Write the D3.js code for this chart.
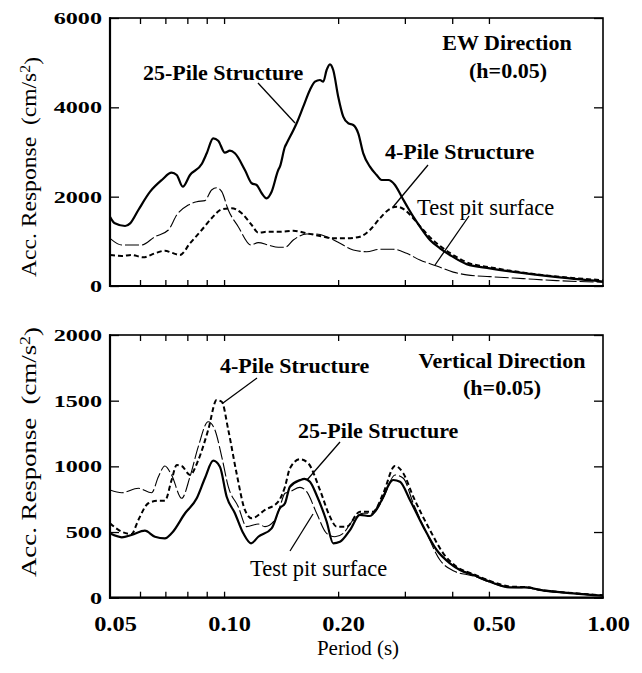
<!DOCTYPE html>
<html>
<head>
<meta charset="utf-8">
<script src="https://cdn.jsdelivr.net/npm/d3@7"></script>
<style>
  body { margin: 0; background: #fff; }
  svg { display: block; }
  text { font-family: "Liberation Serif", "Times New Roman", serif; fill: #000; }
</style>
</head>
<body>
<svg id="chart" width="642" height="673" font-family="Liberation Serif, Times New Roman, serif"></svg>
<script>
// ---------- DATA: [period (s), acceleration response (cm/s^2)] ----------
// EW direction
const ewPile25 = [[0.050,1552],[0.0515,1403],[0.0548,1343],[0.0565,1403],[0.0594,1702],[0.0638,2112],[0.0685,2373],[0.0727,2537],[0.0750,2485],[0.0778,2223],[0.0813,2485],[0.0873,2731],[0.0900,2971],[0.0936,3307],[0.0965,3253],[0.1005,2985],[0.1036,3029],[0.1068,2971],[0.1135,2597],[0.1183,2300],[0.1219,2261],[0.1257,2076],[0.1295,1964],[0.1335,2112],[0.1390,2597],[0.1404,2671],[0.1448,3119],[0.1463,3195],[0.1554,3643],[0.1618,4015],[0.1685,4389],[0.1737,4574],[0.1791,4612],[0.1827,4574],[0.1865,4836],[0.1903,4964],[0.1941,4836],[0.2001,4238],[0.2063,3791],[0.2127,3643],[0.2192,3605],[0.2260,3419],[0.2330,2971],[0.2426,2671],[0.2527,2485],[0.2605,2373],[0.2712,2373],[0.2825,2261],[0.2942,1999],[0.3062,1740],[0.3157,1552],[0.3288,1328],[0.3494,1030],[0.3713,844],[0.3945,694],[0.4366,490],[0.5031,396],[0.6036,298],[0.7377,208],[1.0,100]];
const ewPile4 = [[0.050,694],[0.0537,672],[0.0570,694],[0.0612,642],[0.0657,732],[0.0698,791],[0.0727,746],[0.0765,694],[0.0813,956],[0.0873,1254],[0.0927,1516],[0.0986,1717],[0.1047,1740],[0.1113,1628],[0.1183,1366],[0.1231,1193],[0.1308,1216],[0.1404,1216],[0.1523,1238],[0.1652,1180],[0.1791,1120],[0.1941,1068],[0.2106,1068],[0.2283,1104],[0.2426,1254],[0.2578,1516],[0.2712,1702],[0.2854,1776],[0.3001,1702],[0.3157,1516],[0.3355,1254],[0.3639,956],[0.3713,900],[0.3945,740],[0.4366,530],[0.5031,420],[0.6036,310],[0.7377,220],[1.0,130]];
const ewTestPit = [[0.050,1068],[0.0537,918],[0.0570,918],[0.0606,918],[0.0657,1104],[0.0713,1254],[0.0750,1590],[0.0805,1814],[0.0847,1888],[0.0890,1911],[0.0927,2149],[0.0956,2201],[0.0986,2112],[0.1026,1702],[0.1090,1328],[0.1178,918],[0.1231,970],[0.1308,918],[0.1390,866],[0.1448,866],[0.1523,1030],[0.1652,1164],[0.1755,1164],[0.1865,1104],[0.2022,956],[0.2192,806],[0.2378,768],[0.2578,822],[0.2796,822],[0.3033,732],[0.3288,582],[0.3639,448],[0.4025,310],[0.4366,250],[0.5031,210],[0.6158,165],[0.7545,120],[1.0,85]];
// Vertical direction
const vtPile25 = [[0.050,490],[0.0537,460],[0.0570,477],[0.0618,510],[0.0657,464],[0.0698,452],[0.0727,490],[0.0789,643],[0.0847,757],[0.0890,909],[0.0936,1043],[0.0975,997],[0.1016,769],[0.1068,643],[0.1124,490],[0.1178,414],[0.1231,464],[0.1335,528],[0.1404,681],[0.1448,719],[0.1492,845],[0.1586,895],[0.1630,905],[0.1685,883],[0.1755,780],[0.1865,580],[0.1941,414],[0.2022,426],[0.2149,515],[0.2283,630],[0.2426,622],[0.2578,719],[0.2796,896],[0.2912,883],[0.3094,744],[0.3355,541],[0.3639,363],[0.3945,262],[0.4192,211],[0.4545,173],[0.5031,122],[0.5680,79],[0.6286,79],[0.6816,59],[0.8346,33],[1.0,15]];
const vtPile4 = [[0.050,566],[0.0537,502],[0.0570,485],[0.0594,592],[0.0631,719],[0.0671,739],[0.0698,739],[0.0727,896],[0.0750,1010],[0.0773,1003],[0.0813,934],[0.0855,1048],[0.0908,1277],[0.0956,1505],[0.0986,1492],[0.1026,1277],[0.1079,947],[0.1135,668],[0.1183,604],[0.1282,668],[0.1390,731],[0.1448,845],[0.1492,985],[0.1586,1054],[0.1668,1023],[0.1791,820],[0.1903,617],[0.1982,541],[0.2106,541],[0.2283,655],[0.2476,655],[0.2631,795],[0.2825,1003],[0.2971,947],[0.3157,769],[0.3494,515],[0.3788,338],[0.4109,236],[0.4545,180],[0.5031,128],[0.5680,85],[0.6286,80],[0.6816,60],[0.8346,35],[1.0,18]];
const vtTestPit = [[0.050,820],[0.0537,799],[0.0594,833],[0.0644,799],[0.0671,921],[0.0698,1003],[0.0727,934],[0.0773,757],[0.0813,921],[0.0855,1150],[0.0908,1340],[0.0946,1277],[0.0986,1073],[0.1026,845],[0.1090,693],[0.1147,541],[0.1231,561],[0.1282,541],[0.1362,592],[0.1404,693],[0.1448,795],[0.1492,807],[0.1586,840],[0.1652,807],[0.1755,643],[0.1865,490],[0.1962,464],[0.2063,490],[0.2192,592],[0.2330,643],[0.2476,643],[0.2631,757],[0.2825,934],[0.2971,909],[0.3157,719],[0.3425,490],[0.3713,287],[0.4025,205],[0.4545,165],[0.5031,118],[0.5680,78],[0.6286,76],[0.6816,57],[0.8346,32],[1.0,14]];

// Ticks and labels
const xTickValues = [0.06,0.07,0.08,0.09,0.1,0.2,0.3,0.4,0.5];
const xLabelValues = [0.05,0.1,0.2,0.5,1.0];
const yTopTicks = [0,2000,4000,6000];
const yBotTicks = [0,500,1000,1500,2000];
const xTitle = "Period (s)";
const yTitle = "Acc. Response";

// ---------- LAYOUT ----------
const svg = d3.select("#chart");
const left = 110, right = 603;
const x = d3.scaleLog().domain([0.05, 1]).range([left, right]);

const panels = [
  { top: 18, bottom: 286, max: 6000, ticks: yTopTicks,
    series: [ewTestPit, ewPile4, ewPile25], titleY: 167, titleLen: 220, showX: false },
  { top: 335, bottom: 597.7, max: 2000, ticks: yBotTicks,
    series: [vtTestPit, vtPile4, vtPile25], titleY: 452, titleLen: 250, showX: true }
];

const styles = [
  { w: 1.1, dash: "14,3" },   // Test pit surface
  { w: 2.0, dash: "5,3" },    // 4-Pile
  { w: 2.2, dash: null }      // 25-Pile
];

panels.forEach((p, pi) => {
  const y = d3.scaleLinear().domain([0, p.max]).range([p.bottom, p.top]);
  const g = svg.append("g");

  const clipId = "clip" + pi;
  svg.append("clipPath").attr("id", clipId).append("rect")
    .attr("x", left).attr("y", p.top).attr("width", right - left).attr("height", p.bottom - p.top);

  const line = d3.line().x(d => x(d[0])).y(d => y(d[1])).curve(d3.curveMonotoneX);
  p.series.forEach((s, i) => {
    g.append("path").datum(s)
      .attr("clip-path", `url(#${clipId})`)
      .attr("d", line)
      .attr("fill", "none")
      .attr("stroke", "#000")
      .attr("stroke-width", styles[i].w)
      .attr("stroke-dasharray", styles[i].dash)
      .attr("stroke-linejoin", "round");
  });

  // Inward ticks via d3 axes
  const axB = g.append("g").attr("transform", `translate(0,${p.bottom})`)
    .call(d3.axisBottom(x).tickValues(xTickValues).tickSize(-6).tickFormat(""));
  const axT = g.append("g").attr("transform", `translate(0,${p.top})`)
    .call(d3.axisTop(x).tickValues(xTickValues).tickSize(-6).tickFormat(""));
  const axL = g.append("g").attr("transform", `translate(${left},0)`)
    .call(d3.axisLeft(y).tickValues(p.ticks).tickSize(-9).tickFormat(""));
  const axR = g.append("g").attr("transform", `translate(${right},0)`)
    .call(d3.axisRight(y).tickValues(p.ticks).tickSize(-9).tickFormat(""));
  [axB, axT, axL, axR].forEach(a => {
    a.select(".domain").remove();
    a.selectAll("line").attr("stroke", "#000").attr("stroke-width", 1.3);
  });

  // Frame
  g.append("rect").attr("x", left).attr("y", p.top)
    .attr("width", right - left).attr("height", p.bottom - p.top)
    .attr("fill", "none").attr("stroke", "#000").attr("stroke-width", 1.6);
  g.append("line").attr("x1", left).attr("x2", left).attr("y1", p.top - 0.8).attr("y2", p.bottom + 1)
    .attr("stroke", "#000").attr("stroke-width", 2.2);
  g.append("line").attr("x1", left - 1).attr("x2", right + 0.8).attr("y1", p.bottom).attr("y2", p.bottom)
    .attr("stroke", "#000").attr("stroke-width", 2.2);

  // Y tick labels
  const yl = g.append("g").attr("transform", `translate(${left - 8},0)`)
    .call(d3.axisLeft(y).tickValues(p.ticks).tickSize(0).tickPadding(0).tickFormat(d3.format("d")));
  yl.select(".domain").remove();
  yl.attr("font-family", "Liberation Serif, Times New Roman, serif");
  yl.selectAll("text")
    .attr("font-size", 17.5).attr("font-weight", "bold").attr("fill", "#000")
    .each(function () {
      const w = this.getComputedTextLength();
      d3.select(this).attr("textLength", w * 1.38).attr("lengthAdjust", "spacingAndGlyphs");
    });

  // Y title
  const t = g.append("text")
    .attr("transform", `translate(36,${p.titleY}) rotate(-90)`)
    .attr("text-anchor", "middle")
    .attr("font-size", 21)
    .attr("textLength", p.titleLen).attr("lengthAdjust", "spacingAndGlyphs");
  t.append("tspan").text(yTitle + "\u00a0\u00a0(cm/s");
  t.append("tspan").attr("dy", "-0.45em").attr("font-size", 14).text("2");
  t.append("tspan").attr("dy", "0.45em").text(")");

  if (p.showX) {
    const xl = g.append("g").attr("transform", `translate(5,${p.bottom})`)
      .call(d3.axisBottom(x).tickValues(xLabelValues).tickSize(0).tickPadding(0).tickFormat(d3.format(".2f")));
    xl.select(".domain").remove();
    xl.attr("font-family", "Liberation Serif, Times New Roman, serif");
    xl.selectAll("text")
      .attr("font-size", 20).attr("font-weight", "bold").attr("fill", "#000")
      .attr("y", 33).attr("dy", 0)
      .each(function () {
        const w = this.getComputedTextLength();
        d3.select(this).attr("textLength", w * 1.22).attr("lengthAdjust", "spacingAndGlyphs");
      });
    g.append("text").attr("x", 358).attr("y", 655).attr("text-anchor", "middle")
      .attr("font-size", 21).text(xTitle);
  }
});

// ---------- ANNOTATIONS ----------
const notes = [
  { t: "25-Pile Structure", x: 143, y: 80, b: true, a: "start" },
  { t: "EW Direction", x: 507, y: 50, b: true, a: "middle" },
  { t: "(h=0.05)", x: 508, y: 78, b: true, a: "middle" },
  { t: "4-Pile Structure", x: 385, y: 159, b: true, a: "start" },
  { t: "Test pit surface", x: 417, y: 215, b: false, a: "start" },
  { t: "4-Pile Structure", x: 220, y: 373, b: true, a: "start" },
  { t: "Vertical Direction", x: 502, y: 368, b: true, a: "middle" },
  { t: "(h=0.05)", x: 502, y: 395, b: true, a: "middle" },
  { t: "25-Pile Structure", x: 298, y: 438, b: true, a: "start" },
  { t: "Test pit surface", x: 250, y: 576, b: false, a: "start" }
];
svg.selectAll("text.note").data(notes).enter().append("text")
  .attr("class", "note")
  .attr("x", d => d.x).attr("y", d => d.y)
  .attr("text-anchor", d => d.a)
  .attr("font-size", d => d.b ? 22 : 22.5)
  .attr("font-weight", d => d.b ? "bold" : "normal")
  .text(d => d.t);

const leaders = [
  [258, 83, 295, 123],
  [428, 165, 393, 207],
  [469, 216, 435, 265],
  [257, 378, 223, 403],
  [340, 442, 307, 480],
  [290, 551, 313, 514]
];
svg.selectAll("line.leader").data(leaders).enter().append("line")
  .attr("class", "leader")
  .attr("x1", d => d[0]).attr("y1", d => d[1]).attr("x2", d => d[2]).attr("y2", d => d[3])
  .attr("stroke", "#000").attr("stroke-width", 1.3);
</script>
</body>
</html>
